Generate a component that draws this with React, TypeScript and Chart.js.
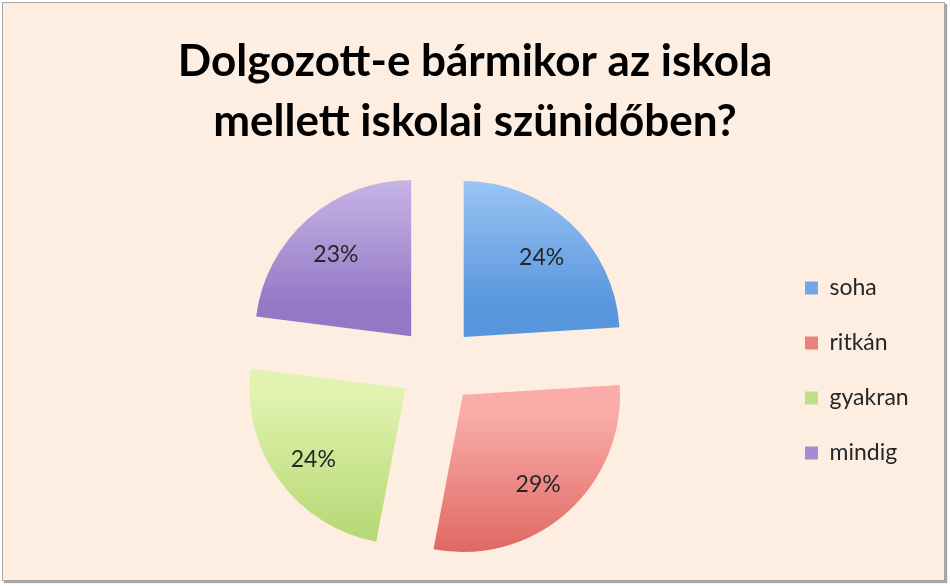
import { useEffect, useRef } from 'react';
import { Chart, registerables } from 'chart.js';

Chart.register(...registerables);

const categories = ['soha', 'ritkán', 'gyakran', 'mindig'];
const shares = [24, 29, 24, 23];
const titleLines = ['Dolgozott-e bármikor az iskola', 'mellett iskolai szünidőben?'];

const topColors = ['#a9cefa', '#f9aca8', '#e1f3ae', '#d3c2ed'];
const bottomColors = ['#5795dc', '#db5a55', '#aed36b', '#9378c5'];
const legendColors = ['#6fa7e9', '#ea817d', '#bee08a', '#a38dd1'];

const RADIUS = 156;
const OFFSET = 156; // chart.js moves an arc by offset / 4
const FONT = 'Lato';
const TEXT = '#262626';
const LEGEND_SIZE = 23;
const LEGEND_PAD = 32;
const LEGEND_BOX = 13;

// vertical gradient over each slice's own height, like the old office look
function sliceFill(c: any) {
  const chart = c.chart;
  const i = c.dataIndex ?? 0;
  const area = chart.chartArea;
  if (!area) return legendColors[i];
  const total = shares.reduce((a, b) => a + b, 0);
  const before = shares.slice(0, i).reduce((a, b) => a + b, 0);
  const a0 = -Math.PI / 2 + (before / total) * 2 * Math.PI;
  const a1 = a0 + (shares[i] / total) * 2 * Math.PI;
  const cy = (area.top + area.bottom) / 2;
  const ty = Math.sin((a0 + a1) / 2) * (OFFSET / 4);
  let ymin = cy;
  let ymax = cy;
  for (let k = 0; k <= 40; k++) {
    const y = cy + Math.sin(a0 + ((a1 - a0) * k) / 40) * RADIUS;
    ymin = Math.min(ymin, y);
    ymax = Math.max(ymax, y);
  }
  const g = chart.ctx.createLinearGradient(0, ymin + ty, 0, ymax + ty);
  g.addColorStop(0, topColors[i]);
  g.addColorStop(1, bottomColors[i]);
  return g;
}

const sliceLabels = {
  id: 'sliceLabels',
  afterDatasetsDraw(chart: Chart) {
    const { ctx } = chart;
    const meta = chart.getDatasetMeta(0);
    ctx.save();
    ctx.font = `23px ${FONT}`;
    ctx.fillStyle = TEXT;
    ctx.textAlign = 'center';
    ctx.textBaseline = 'middle';
    meta.data.forEach((arc: any, i: number) => {
      const { x, y, startAngle, endAngle, outerRadius } = arc.getProps(
        ['x', 'y', 'startAngle', 'endAngle', 'outerRadius'],
        true
      );
      const mid = (startAngle + endAngle) / 2;
      const d = OFFSET / 4 + outerRadius * 0.73;
      ctx.fillText(`${shares[i]}%`, x + Math.cos(mid) * d, y + Math.sin(mid) * d + 4);
    });
    ctx.restore();
  }
};

function PieChart() {
  const ref = useRef<HTMLCanvasElement | null>(null);

  useEffect(() => {
    if (!ref.current) return;

    // legend width as chart.js will compute it, so the pie centre and the
    // legend column land where they are in the picture
    const m = ref.current.getContext('2d')!;
    m.font = `${LEGEND_SIZE}px ${FONT}`;
    const tw = Math.max(...categories.map((t) => m.measureText(t).width));
    const legendW = LEGEND_PAD + LEGEND_BOX + LEGEND_SIZE / 2 + tw + 10;
    const legendLeft = 773;
    const side = 950 - legendLeft - legendW; // same on both sides keeps title centred
    const centreX = 437;
    const spacer = 2 * centreX - legendLeft - side;

    const chart = new Chart(ref.current, {
      type: 'pie',
      data: {
        labels: categories,
        datasets: [
          {
            data: shares,
            backgroundColor: sliceFill as never,
            borderWidth: 0,
            offset: OFFSET,
            radius: RADIUS
          } as never
        ]
      },
      options: {
        responsive: false,
        animation: false,
        events: [],
        layout: { padding: { left: side, right: side, top: 0, bottom: 7 } },
        plugins: {
          tooltip: { enabled: false },
          title: {
            display: true,
            text: titleLines,
            color: '#000',
            font: { family: FONT, size: 44, weight: 'bold', lineHeight: '60px' },
            padding: { top: 32, bottom: 0 }
          },
          // empty left box, only there to push the pie to the left
          subtitle: {
            display: true,
            position: 'left',
            text: '',
            padding: 0,
            font: { size: 10, lineHeight: `${spacer}px` }
          },
          legend: {
            position: 'right',
            // empty legend title moves the column down next to the pie
            title: { display: true, text: '', padding: 0, font: { size: 10, lineHeight: '162px' } },
            labels: {
              boxWidth: LEGEND_BOX,
              boxHeight: LEGEND_BOX,
              padding: LEGEND_PAD,
              color: TEXT,
              font: { family: FONT, size: LEGEND_SIZE },
              generateLabels: () =>
                categories.map((text, i) => ({
                  text,
                  fillStyle: legendColors[i],
                  strokeStyle: legendColors[i],
                  lineWidth: 0,
                  hidden: false,
                  index: i,
                  fontColor: TEXT
                }))
            }
          }
        }
      },
      plugins: [sliceLabels]
    });
    return () => chart.destroy();
  }, []);

  return (
    <canvas
      ref={ref}
      width={950}
      height={586}
      style={{ position: 'absolute', left: 0, top: 0, width: 950, height: 586 }}
    />
  );
}

export default function App() {
  return (
    <div style={{ position: 'absolute', left: 0, top: 0, width: 950, height: 586, background: '#fff', overflow: 'hidden' }}>
      <div
        style={{
          position: 'absolute',
          left: 2,
          top: 2,
          width: 943,
          height: 579,
          boxSizing: 'border-box',
          border: '1px solid #a8a8a8',
          boxShadow: '2px 2px 1px rgba(0,0,0,0.35)',
          background: '#fdeee1'
        }}
      />
      <PieChart />
    </div>
  );
}
